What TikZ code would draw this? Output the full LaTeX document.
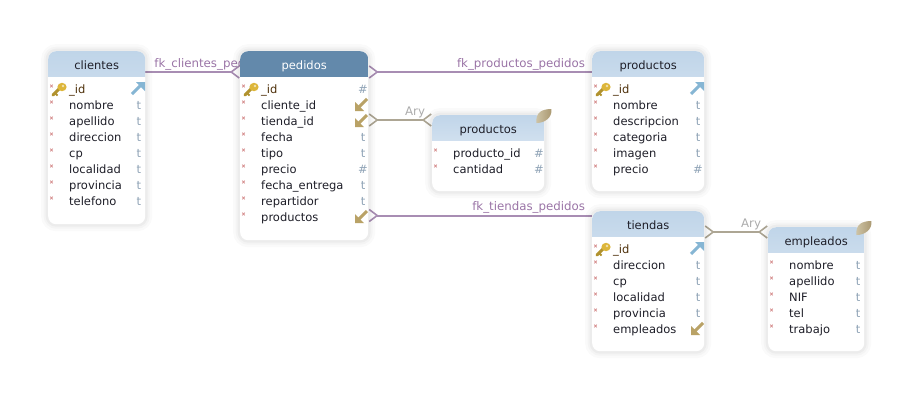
\documentclass[tikz,border=0pt]{standalone}
\usepackage{fontspec}
\setmainfont{DejaVu Sans}
\usepackage{xcolor}
\usepackage{tikz}
\usetikzlibrary{arrows.meta,backgrounds}
\definecolor{cabClaroA}{HTML}{C0D5E9}
\definecolor{cabClaroM}{HTML}{D2E1EF}
\definecolor{cabClaroB}{HTML}{F0F5FA}
\definecolor{cabOscuro}{HTML}{6389AB}
\definecolor{morado}{HTML}{A88DB3}
\definecolor{moradoTexto}{HTML}{9A74A6}
\definecolor{pardo}{HTML}{ADA694}
\definecolor{grisAry}{HTML}{ABABAB}
\definecolor{textoCampo}{HTML}{1E1E28}
\definecolor{textoId}{HTML}{4E300A}
\definecolor{textoTipo}{HTML}{8FA3B6}
\definecolor{rosaMarca}{HTML}{D89494}
\definecolor{azulFlecha}{HTML}{86B6D4}
\definecolor{oroFlecha}{HTML}{B9A266}
\definecolor{oroLlave}{HTML}{DDB63A}
\definecolor{hojaA}{HTML}{CFC5A8}
\definecolor{hojaB}{HTML}{A8966E}
\tikzset{
  tabla/.style n args={3}{anchor=north west,inner sep=0pt,rounded corners=8pt,fill=white,
    preaction={draw=black,opacity=.018,line width=14pt},
    preaction={draw=black,opacity=.025,line width=9pt},
    preaction={draw=black,opacity=.03,line width=5pt},
    path picture={\shade[sharp corners,top color=#1,middle color=#2,bottom color=#3]
      (path picture bounding box.north west) rectangle ([yshift=-25pt]path picture bounding box.north east);}},
  titulo/.style={anchor=base,inner sep=0pt,text=textoCampo,font=\fontsize{11.5}{14}\selectfont},
  campo/.style={anchor=base west,inner sep=0pt,text=textoCampo,font=\fontsize{11.5}{14}\selectfont},
  campoid/.style={campo,text=textoId},
  tipo/.style={anchor=base,inner sep=0pt,text=textoTipo,font=\fontsize{11.5}{14}\selectfont},
  fk/.style={morado,line width=2pt},
  ary/.style={pardo,line width=2pt},
  pata/.style={{Straight Barb[reversed,length=8pt,width=12pt,line width=1.6pt]}-},
  patas/.style={{Straight Barb[reversed,length=8pt,width=12pt,line width=1.6pt]}-{Straight Barb[reversed,length=8pt,width=12pt,line width=1.6pt]}},
  etiqueta/.style={inner sep=0pt,text=moradoTexto,font=\fontsize{11.8}{14}\selectfont},
  etiquetaary/.style={inner sep=0pt,text=grisAry,font=\fontsize{11.8}{14}\selectfont},
  marca/.pic={\draw[rosaMarca,line width=.8pt] (2.2,-8.4)--(4.8,-5.6) (2.2,-5.6)--(4.8,-8.4);},
  llave/.pic={
    \draw[oroLlave!80!black,line width=3pt,line cap=round] (5,2)--(12,-5);
    \draw[oroLlave!80!black,line width=1.8pt] (7,0)--(9.5,2.5);
    \fill[oroLlave] (14,-6) ellipse (4.6 and 4.2);
    \fill[white!60!oroLlave] (15,-7) circle (1.3);},
  flechaazul/.pic={
    \draw[azulFlecha,line width=3pt] (-13,1)--(-3,-9);
    \fill[azulFlecha] (0,-11)--(-9,-11)--(0,-2)--cycle;},
  flechaoro/.pic={
    \draw[oroFlecha,line width=3pt] (-1,-10)--(-10,-1);
    \fill[oroFlecha] (-13,2)--(-13,-7)--(-4,2)--cycle;},
  hoja/.pic={
    \shade[left color=hojaA,right color=hojaB] (-8,8) .. controls (-9,-3) and (-2,-6) .. (7,-6) .. controls (8,3) and (0,8) .. cycle;},
  claro/.style={tabla={cabClaroA}{cabClaroM}{cabClaroB}},
  oscuro/.style={tabla={cabOscuro}{cabOscuro}{cabOscuro}}
}
\begin{document}
\begin{tikzpicture}[x=1pt,y=-1pt]
\useasboundingbox (0,0) rectangle (912,400);
% tablas
\node[claro,minimum width=97pt,minimum height=173pt] (clientes) at (48,51) {};
\node[oscuro,minimum width=128pt,minimum height=189pt] (pedidos) at (240,51) {};
\node[claro,minimum width=112pt,minimum height=76pt] (lineas) at (432,115) {};
\node[claro,minimum width=112pt,minimum height=140pt] (productos) at (592,51) {};
\node[claro,minimum width=112pt,minimum height=140pt] (tiendas) at (592,211) {};
\node[claro,minimum width=96pt,minimum height=124pt] (empleados) at (768,227) {};
\node[titulo] (clientes titulo) at ([yshift=-18pt]clientes.north) {clientes};
\node[titulo,text=white] (pedidos titulo) at ([yshift=-18pt]pedidos.north) {pedidos};
\node[titulo] (lineas titulo) at ([yshift=-18pt]lineas.north) {productos};
\node[titulo] (productos titulo) at ([yshift=-18pt]productos.north) {productos};
\node[titulo] (tiendas titulo) at ([yshift=-18pt]tiendas.north) {tiendas};
\node[titulo] (empleados titulo) at ([yshift=-18pt]empleados.north) {empleados};
% clientes
\pic at (48,93) {marca};
\pic at (48,93) {llave};
\node[campoid] (clientes id) at (69,93) {\_id};
\pic at (145,93) {flechaazul};
\foreach \y/\campo in {109/nombre,125/apellido,141/direccion,157/cp,173/localidad,189/provincia,205/telefono} {
  \pic at (48,\y) {marca};
  \node[campo] (clientes \y) at (69,\y) {\campo};
  \node[tipo] (clientes tipo \y) at (139,\y) {t};
}
% pedidos
\pic at (240,93) {marca};
\pic at (240,93) {llave};
\node[campoid] (pedidos id) at (261,93) {\_id};
\foreach \y/\campo in {109/cliente\_id,125/tienda\_id,141/fecha,157/tipo,173/precio,189/fecha\_entrega,205/repartidor,221/productos} {
  \pic at (240,\y) {marca};
  \node[campo] (pedidos \y) at (261,\y) {\campo};
}
\foreach \y/\tipo in {93/\#,141/t,157/t,173/\#,189/t,205/t} {
  \node[tipo] (pedidos tipo \y) at (363,\y) {\tipo};
}
\foreach \y in {109,125,221} {
  \pic at (368,\y) {flechaoro};
}
% productos del pedido
\foreach \y/\campo in {157/producto\_id,173/cantidad} {
  \pic at (432,\y) {marca};
  \node[campo] (lineas \y) at (453,\y) {\campo};
  \node[tipo] (lineas tipo \y) at (539,\y) {\#};
}
\pic at (lineas.north east) {hoja};
% productos
\pic at (592,93) {marca};
\pic at (592,93) {llave};
\node[campoid] (productos id) at (613,93) {\_id};
\pic at (704,93) {flechaazul};
\foreach \y/\campo/\tipo in {109/nombre/t,125/descripcion/t,141/categoria/t,157/imagen/t,173/precio/\#} {
  \pic at (592,\y) {marca};
  \node[campo] (productos \y) at (613,\y) {\campo};
  \node[tipo] (productos tipo \y) at (698,\y) {\tipo};
}
% tiendas
\pic at (592,253) {marca};
\pic at (592,253) {llave};
\node[campoid] (tiendas id) at (613,253) {\_id};
\pic at (704,253) {flechaazul};
\foreach \y/\campo in {269/direccion,285/cp,301/localidad,317/provincia} {
  \pic at (592,\y) {marca};
  \node[campo] (tiendas \y) at (613,\y) {\campo};
  \node[tipo] (tiendas tipo \y) at (698,\y) {t};
}
\pic at (592,333) {marca};
\node[campo] (tiendas 333) at (613,333) {empleados};
\pic at (704,333) {flechaoro};
% empleados
\foreach \y/\campo in {269/nombre,285/apellido,301/NIF,317/tel,333/trabajo} {
  \pic at (768,\y) {marca};
  \node[campo] (empleados \y) at (789,\y) {\campo};
  \node[tipo] (empleados tipo \y) at (858,\y) {t};
}
\pic at (empleados.north east) {hoja};
% relaciones
\begin{scope}[on background layer]
\draw[fk,pata] ([yshift=-21pt]pedidos.north west) -- ([yshift=-21pt]clientes.north east)
  node[etiqueta,anchor=base west,pos=1,xshift=8pt,yshift=5pt] (fk clientes) {fk\_clientes\_pedidos};
\draw[fk,pata] ([yshift=-21pt]pedidos.north east) -- ([yshift=-21pt]productos.north west)
  node[etiqueta,anchor=base east,pos=1,xshift=-6pt,yshift=5pt] (fk productos) {fk\_productos\_pedidos};
\draw[fk,pata] ([yshift=-164.5pt]pedidos.north east) -- ([yshift=-4.5pt]tiendas.north west)
  node[etiqueta,anchor=base east,pos=1,xshift=-6pt,yshift=5pt] (fk tiendas) {fk\_tiendas\_pedidos};
\draw[ary,patas] ([yshift=-69pt]pedidos.north east) -- ([yshift=-5pt]lineas.north west)
  node[etiquetaary,anchor=base east,pos=1,xshift=-6pt,yshift=5pt] (ary lineas) {Ary};
\draw[ary,patas] ([yshift=-21pt]tiendas.north east) -- ([yshift=-5pt]empleados.north west)
  node[etiquetaary,anchor=base east,pos=1,xshift=-6pt,yshift=5pt] (ary empleados) {Ary};
\end{scope}
\end{tikzpicture}
\end{document}
